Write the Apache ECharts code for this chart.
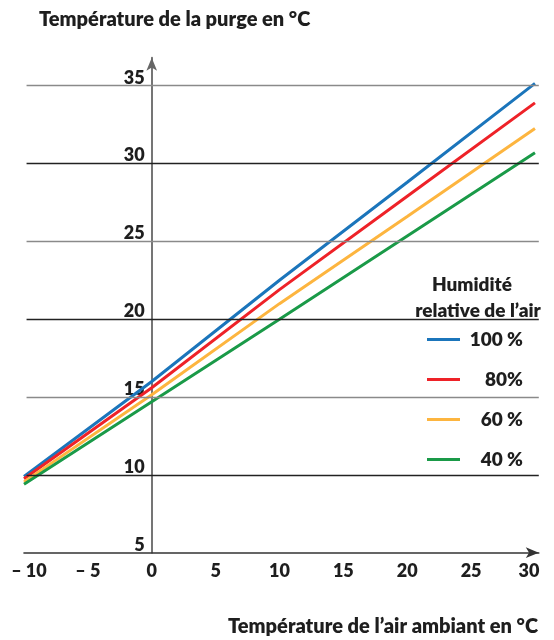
<!DOCTYPE html>
<html>
<head>
<meta charset="utf-8">
<script src="https://cdn.jsdelivr.net/npm/echarts@6/dist/echarts.min.js"></script>
<style>html,body{margin:0;padding:0;background:#fff}#c{width:554px;height:640px}</style>
</head>
<body>
<div id="c"></div>
<script>
// ---- data ----
const xValues = [-10, 0, 10, 20, 30];
const seriesNames = ['100 %', '80%', '60 %', '40 %'];
const rh100 = [9.9, 16.0, 22.5, 28.8, 35.15];
const rh80 = [9.75, 15.6, 21.9, 27.9, 33.9];
const rh60 = [9.55, 15.15, 21.0, 26.6, 32.25];
const rh40 = [9.4, 14.7, 20.0, 25.35, 30.7];
const xTicks = [-10, -5, 0, 5, 10, 15, 20, 25, 30];
const xTickLabels = ['\u2013 10', '\u2013 5', '0', '5', '10', '15', '20', '25', '30'];
const yTicks = [5, 10, 15, 20, 25, 30, 35];
const yTickLabels = ['5', '10', '15', '20', '25', '30', '35'];
const gridValues = [10, 15, 20, 25, 30, 35];
const yTitle = 'Température de la purge en °C';
const xTitle = 'Température de l\u2019air ambiant en °C';
const legendTitle1 = 'Humidité';
const legendTitle2 = 'relative de l\u2019air';

// ---- styles / layout ----
const FONT = 'Lato';
const WEIGHT = 800;
const TXT = '#1e1e1e';
const colors = ['#1b75bb', '#ee2228', '#fdb53f', '#1a9a48'];
const allSeries = [rh100, rh80, rh60, rh40];
const W = 554;
const gridLeft = 24, gridRight = 15.2;
const xMin = -10, xMax = 30.3;
const zeroOffset = (0 - xMin) / (xMax - xMin) * (W - gridLeft - gridRight);

const chart = echarts.init(document.getElementById('c'), null, {renderer: 'canvas'});

const lineSeries = allSeries.map((arr, i) => ({
  name: seriesNames[i],
  type: 'line',
  data: xValues.map((x, k) => [x, arr[k]]),
  symbol: 'none',
  lineStyle: {color: colors[i], width: 3},
  itemStyle: {color: colors[i]},
  z: 3,
  silent: true
}));

const gridSeries = {
  type: 'line',
  data: [],
  silent: true,
  z: 1,
  markLine: {
    silent: true,
    symbol: 'none',
    label: {show: false},
    animation: false,
    data: gridValues.map(v => [
      {coord: [-9.8, v], lineStyle: {color: v % 10 === 0 ? '#222' : '#8a8a8a', width: 1.3, type: 'solid'}},
      {coord: [xMax, v]}
    ])
  }
};

const tickFont = {fontFamily: FONT, fontWeight: WEIGHT, fontSize: 18, color: TXT};

const option = {
  animation: false,
  backgroundColor: '#fff',
  grid: {left: gridLeft, right: gridRight, top: 57.7, bottom: 87.3, containLabel: false, outerBoundsMode: 'none'},
  xAxis: {
    type: 'value', min: xMin, max: xMax, interval: 5,
    axisLine: {show: true, onZero: false, symbol: ['none', 'arrow'], symbolSize: [8, 13],
      lineStyle: {color: '#333', width: 1.6}},
    axisTick: {show: false},
    splitLine: {show: false},
    axisLabel: Object.assign({
      margin: 9,
      formatter: v => {
        const i = xTicks.indexOf(v);
        if (i < 0) return '';
        if (i === 0) return '{first|' + xTickLabels[i] + '}';
        if (i === xTicks.length - 1) return '{last|' + xTickLabels[i] + '}';
        return xTickLabels[i];
      },
      rich: {
        first: Object.assign({padding: [0, 0, 0, 10]}, tickFont),
        last: Object.assign({padding: [0, 12, 0, 0]}, tickFont)
      }
    }, tickFont)
  },
  yAxis: {
    type: 'value', min: 5, max: 36.8, interval: 5,
    offset: -zeroOffset,
    axisLine: {show: true, onZero: false, symbol: ['none', 'arrow'], symbolSize: [8, 13],
      lineStyle: {color: '#666', width: 1.8}},
    axisTick: {show: false},
    splitLine: {show: false},
    axisLabel: Object.assign({
      margin: 7, verticalAlign: 'bottom', lineHeight: 16,
      formatter: v => { const i = yTicks.indexOf(v); return i >= 0 ? yTickLabels[i] : ''; }
    }, tickFont)
  },
  legend: {
    orient: 'vertical', left: 422, top: 325,
    icon: 'rect', itemWidth: 33, itemHeight: 3, itemGap: 21,
    selectedMode: false,
    data: seriesNames,
    formatter: name => '{a|' + name + '}',
    textStyle: {
      fontFamily: FONT, fontWeight: WEIGHT, fontSize: 19, color: TXT,
      rich: {a: {width: 58, align: 'right', fontFamily: FONT, fontWeight: WEIGHT, fontSize: 19, color: TXT, lineHeight: 20}}
    }
  },
  graphic: [
    {type: 'text', x: 39, y: 20, silent: true,
      style: {text: yTitle, font: WEIGHT + ' 20px ' + FONT, fill: TXT, textAlign: 'left', textVerticalAlign: 'middle'}},
    {type: 'text', x: 538, y: 627, silent: true,
      style: {text: xTitle, font: WEIGHT + ' 20px ' + FONT, fill: TXT, textAlign: 'right', textVerticalAlign: 'middle'}},
    {type: 'text', x: 472, y: 285, silent: true,
      style: {text: legendTitle1, font: WEIGHT + ' 19px ' + FONT, fill: TXT, textAlign: 'center', textVerticalAlign: 'middle'}},
    {type: 'text', x: 478, y: 311, silent: true,
      style: {text: legendTitle2, font: WEIGHT + ' 19px ' + FONT, fill: TXT, textAlign: 'center', textVerticalAlign: 'middle'}}
  ],
  series: [gridSeries].concat(lineSeries)
};
chart.setOption(option);
</script>
</body>
</html>
